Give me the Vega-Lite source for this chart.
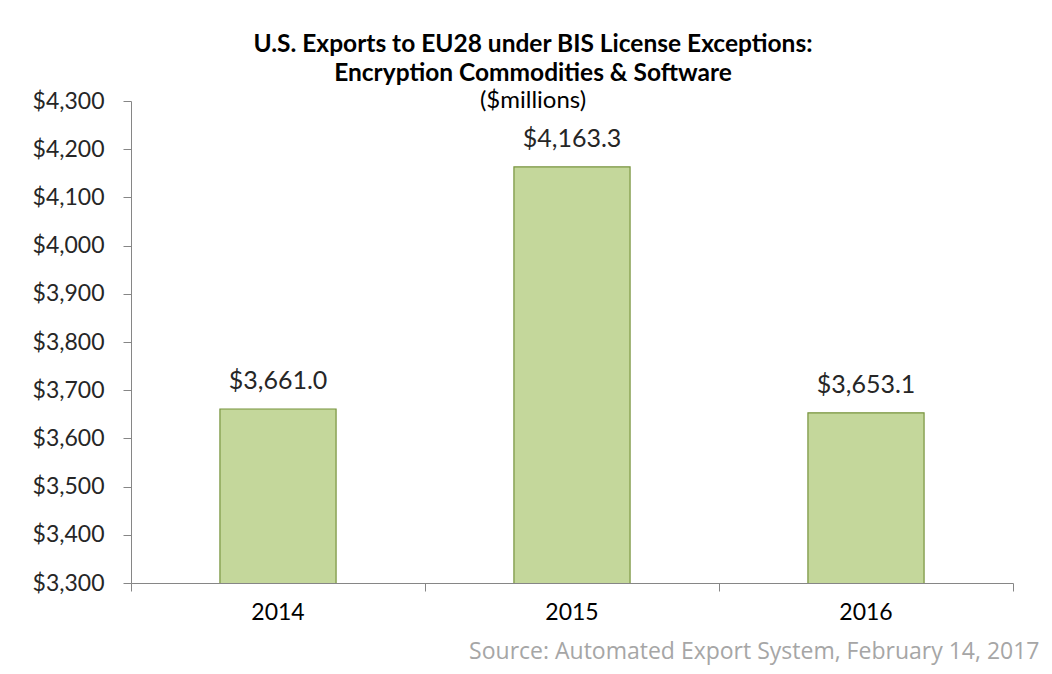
{
  "$schema": "https://vega.github.io/schema/vega-lite/v6.json",
  "width": 882,
  "height": 482,
  "autosize": "none",
  "padding": {"left": 131, "top": 101, "right": 39, "bottom": 91},
  "background": "white",
  "title": {
    "text": ["U.S. Exports to EU28 under BIS License Exceptions:", "Encryption Commodities & Software"],
    "subtitle": "($millions)",
    "anchor": "middle",
    "frame": "group",
    "dx": -39,
    "offset": -24,
    "font": "Lato",
    "fontSize": 24.5,
    "fontWeight": "bold",
    "color": "#000000",
    "lineHeight": 29,
    "subtitleFont": "Lato",
    "subtitleFontSize": 24,
    "subtitleColor": "#000000",
    "subtitlePadding": 3
  },
  "config": {
    "view": {"stroke": null},
    "font": "Lato"
  },
  "data": {
    "values": [
      {"year": "2014", "value": 3661.0},
      {"year": "2015", "value": 4163.3},
      {"year": "2016", "value": 3653.1}
    ]
  },
  "encoding": {
    "x": {
      "field": "year",
      "type": "nominal",
      "scale": {"paddingInner": 0, "paddingOuter": 0},
      "axis": {
        "title": "Source: Automated Export System, February 14, 2017",
        "titleFont": "Open Sans",
        "titleFontSize": 23,
        "titleFontWeight": "normal",
        "titleColor": "#a6a6a6",
        "titleAnchor": "end",
        "titleAlign": "right",
        "titleBaseline": "alphabetic",
        "titleX": 908,
        "titleY": 75,
        "labelAngle": 0,
        "labelFont": "Lato",
        "labelFontSize": 23,
        "labelColor": "#000000",
        "labelPadding": 10,
        "bandPosition": 1,
        "tickExtra": true,
        "tickSize": 8,
        "tickColor": "#868686",
        "domainColor": "#868686",
        "grid": false
      }
    },
    "y": {
      "field": "value",
      "type": "quantitative",
      "scale": {"domain": [3300, 4300], "zero": false, "nice": false},
      "axis": {
        "title": null,
        "values": [3300, 3400, 3500, 3600, 3700, 3800, 3900, 4000, 4100, 4200, 4300],
        "format": "$,d",
        "labelFont": "Lato",
        "labelFontSize": 23,
        "labelColor": "#262626",
        "labelPadding": 19,
        "tickSize": 8,
        "tickColor": "#868686",
        "domainColor": "#868686",
        "grid": false
      }
    }
  },
  "layer": [
    {
      "mark": {"type": "bar", "clip": true, "width": {"band": 0.395}, "fill": "#c4d79b", "stroke": "#77933c", "strokeWidth": 1.2}
    },
    {
      "mark": {"type": "text", "baseline": "alphabetic", "dy": -20, "font": "Lato", "fontSize": 25, "color": "#262626"},
      "encoding": {
        "text": {"field": "value", "type": "quantitative", "format": "$,.1f"}
      }
    }
  ]
}
